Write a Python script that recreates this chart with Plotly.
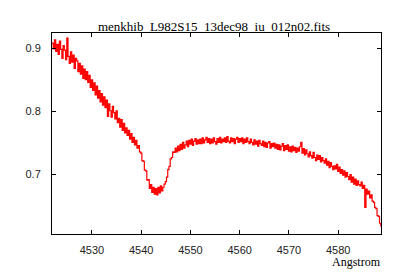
import numpy as np
import plotly.graph_objects as go

title_text = "menkhib_L982S15_13dec98_iu_012n02.fits"
x_label = "Angstrom"
wl_start = 4521.9
wl_step = 0.25

flux = [
    0.908, 0.899, 0.913, 0.895, 0.906, 0.890, 0.911, 0.898, 0.884, 0.904,
    0.897, 0.882, 0.916, 0.887, 0.876, 0.894, 0.878, 0.889, 0.868, 0.884,
    0.880, 0.863, 0.876, 0.859, 0.872, 0.852, 0.867, 0.850, 0.863, 0.846,
    0.857, 0.838, 0.850, 0.833, 0.845, 0.826, 0.840, 0.821, 0.833, 0.815,
    0.828, 0.810, 0.823, 0.806, 0.818, 0.792, 0.812, 0.801, 0.791, 0.808,
    0.798, 0.788, 0.801, 0.782, 0.789, 0.775, 0.787, 0.770, 0.781, 0.766,
    0.774, 0.762, 0.770, 0.756, 0.765, 0.751, 0.759, 0.747, 0.754, 0.742,
    0.746, 0.736, 0.734, 0.722, 0.721, 0.707, 0.706, 0.691, 0.692, 0.678,
    0.684, 0.672, 0.680, 0.669, 0.678, 0.668, 0.680, 0.671, 0.682, 0.674,
    0.680, 0.685, 0.689, 0.696, 0.708, 0.713, 0.725, 0.727, 0.736, 0.735,
    0.742, 0.736, 0.745, 0.738, 0.748, 0.740, 0.751, 0.742, 0.747, 0.753,
    0.744, 0.754, 0.748, 0.756, 0.746, 0.753, 0.757, 0.748, 0.755, 0.749,
    0.756, 0.749, 0.758, 0.750, 0.755, 0.759, 0.751, 0.757, 0.749, 0.756,
    0.750, 0.758, 0.752, 0.748, 0.757, 0.751, 0.759, 0.750, 0.756, 0.752,
    0.758, 0.751, 0.760, 0.753, 0.750, 0.758, 0.752, 0.757, 0.749, 0.756,
    0.759, 0.751, 0.757, 0.752, 0.758, 0.749, 0.756, 0.751, 0.758, 0.752,
    0.749, 0.756, 0.751, 0.747, 0.755, 0.748, 0.753, 0.745, 0.754, 0.749,
    0.746, 0.753, 0.744, 0.751, 0.743, 0.750, 0.752, 0.742, 0.749, 0.744,
    0.750, 0.742, 0.748, 0.740, 0.747, 0.739, 0.745, 0.749, 0.738, 0.746,
    0.740, 0.747, 0.737, 0.744, 0.736, 0.745, 0.738, 0.743, 0.735, 0.742,
    0.737, 0.744, 0.751, 0.734, 0.741, 0.731, 0.739, 0.733, 0.728, 0.736,
    0.730, 0.726, 0.735, 0.727, 0.722, 0.731, 0.724, 0.730, 0.720, 0.727,
    0.722, 0.718, 0.725, 0.715, 0.721, 0.711, 0.719, 0.713, 0.708, 0.714,
    0.709, 0.716, 0.705, 0.712, 0.702, 0.708, 0.699, 0.706, 0.696, 0.703,
    0.697, 0.692, 0.700, 0.688, 0.696, 0.685, 0.693, 0.683, 0.690, 0.684,
    0.682, 0.688, 0.678, 0.683, 0.648, 0.677, 0.669, 0.674, 0.663, 0.668,
    0.658, 0.656, 0.648, 0.646, 0.635, 0.634, 0.623, 0.618,
]
wavelength = wl_start + wl_step * np.arange(len(flux))

x_ticks = [4530, 4540, 4550, 4560, 4570, 4580]
y_ticks = [0.7, 0.8, 0.9]

fig = go.Figure()
fig.add_trace(go.Scatter(
    x=wavelength, y=flux, mode="lines", line_shape="hv",
    line=dict(color="#ff0000", width=1.2), showlegend=False,
))

axis_common = dict(
    showline=True, linecolor="black", linewidth=1, mirror="ticks",
    ticks="inside", ticklen=4, tickcolor="black", tickwidth=1,
    showgrid=False, zeroline=False, automargin=False,
    tickfont=dict(family="Liberation Sans", size=11, color="#222"),
)

fig.update_layout(
    width=400, height=280,
    margin=dict(l=52, r=19, t=33, b=46),
    paper_bgcolor="white", plot_bgcolor="white",
    title=dict(text=title_text, x=0.535, xanchor="center", y=0.905, yanchor="middle",
               font=dict(family="Liberation Serif", size=13, color="black")),
    xaxis=dict(range=[4521.9, 4588.7], tickvals=x_ticks, ticklabelstandoff=6, **axis_common),
    yaxis=dict(range=[0.606, 0.924], tickvals=y_ticks, tickformat=".1f", ticklabelstandoff=8, **axis_common),
    annotations=[dict(text=x_label, xref="paper", yref="paper", x=1.005, y=-0.14,
                      xanchor="right", yanchor="middle", showarrow=False,
                      font=dict(family="Liberation Serif", size=12, color="black"))],
)

fig.write_html("out.html", config={"displayModeBar": False},
               post_script="document.body.style.margin='0px';")
